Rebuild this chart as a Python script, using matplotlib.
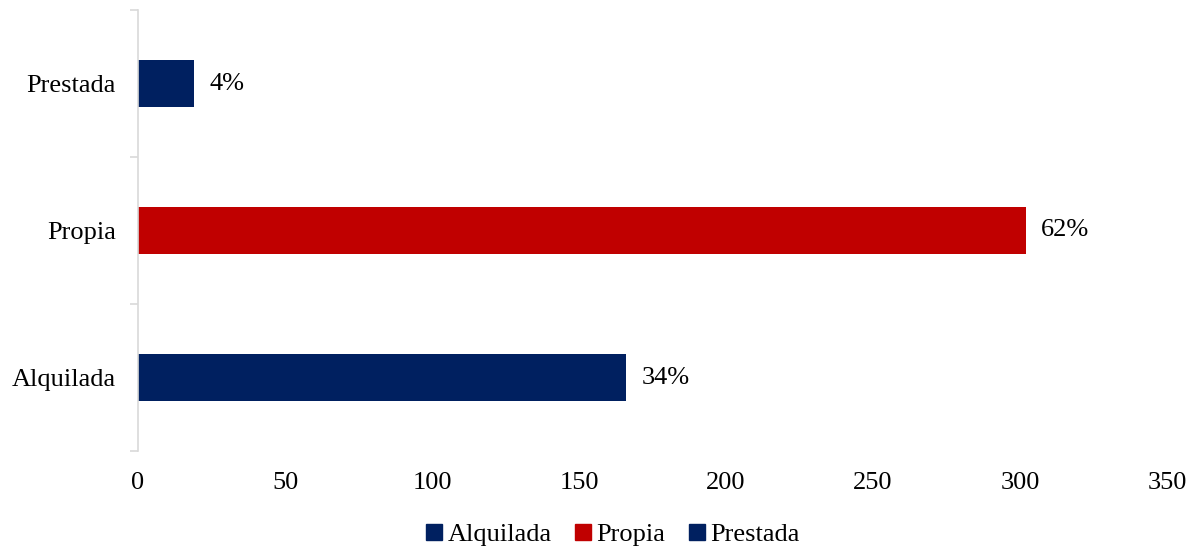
import matplotlib
matplotlib.use("Agg")
import matplotlib.pyplot as plt
from matplotlib.patches import Patch

categories = ["Alquilada", "Propia", "Prestada"]
values = [166, 302, 19]
labels = ["34%", "62%", "4%"]
colors = ["#002060", "#C00000", "#002060"]

plt.rcParams['font.family'] = ['Liberation Serif', 'DejaVu Serif']
FS = 19

fig = plt.figure(figsize=(11.92, 5.48), dpi=100)
ax = fig.add_axes([138/1192, (548-451)/548, (1167-138)/1192, (451-10)/548])

y = list(range(len(categories)))
ax.barh(y, values, height=0.315, color=colors)
for yi, v, lab in zip(y, values, labels):
    ax.annotate(lab, (v, yi), xytext=(11, 0), textcoords="offset points",
                va="center", ha="left", fontsize=FS)

ax.set_xlim(0, 350)
ax.set_ylim(-0.5, 2.5)
ax.set_xticks([0, 50, 100, 150, 200, 250, 300, 350])
ax.tick_params(axis="x", length=0, labelsize=FS, pad=15)
ax.set_yticks([-0.5, 0.5, 1.5, 2.5], minor=False)
ax.set_yticklabels([])
ax.set_yticks(y, minor=True)
ax.set_yticklabels(categories, minor=True)
ax.tick_params(axis="y", which="major", length=6, color="#d9d9d9", width=1.2)
ax.tick_params(axis="y", which="minor", length=0, labelsize=FS, pad=16)

for s in ["top", "right", "bottom"]:
    ax.spines[s].set_visible(False)
ax.spines["left"].set_color("#d9d9d9")
ax.spines["left"].set_linewidth(1.2)

handles = [Patch(color=c, label=l) for c, l in zip(colors, categories)]
fig.legend(handles=handles, loc="center", bbox_to_anchor=(613/1192, 1 - 535/548),
           ncol=3, frameon=False, fontsize=FS, handlelength=0.6, handleheight=0.6,
           handletextpad=0.2, columnspacing=0.9, borderpad=0)

fig.savefig("out.png", dpi=100)
